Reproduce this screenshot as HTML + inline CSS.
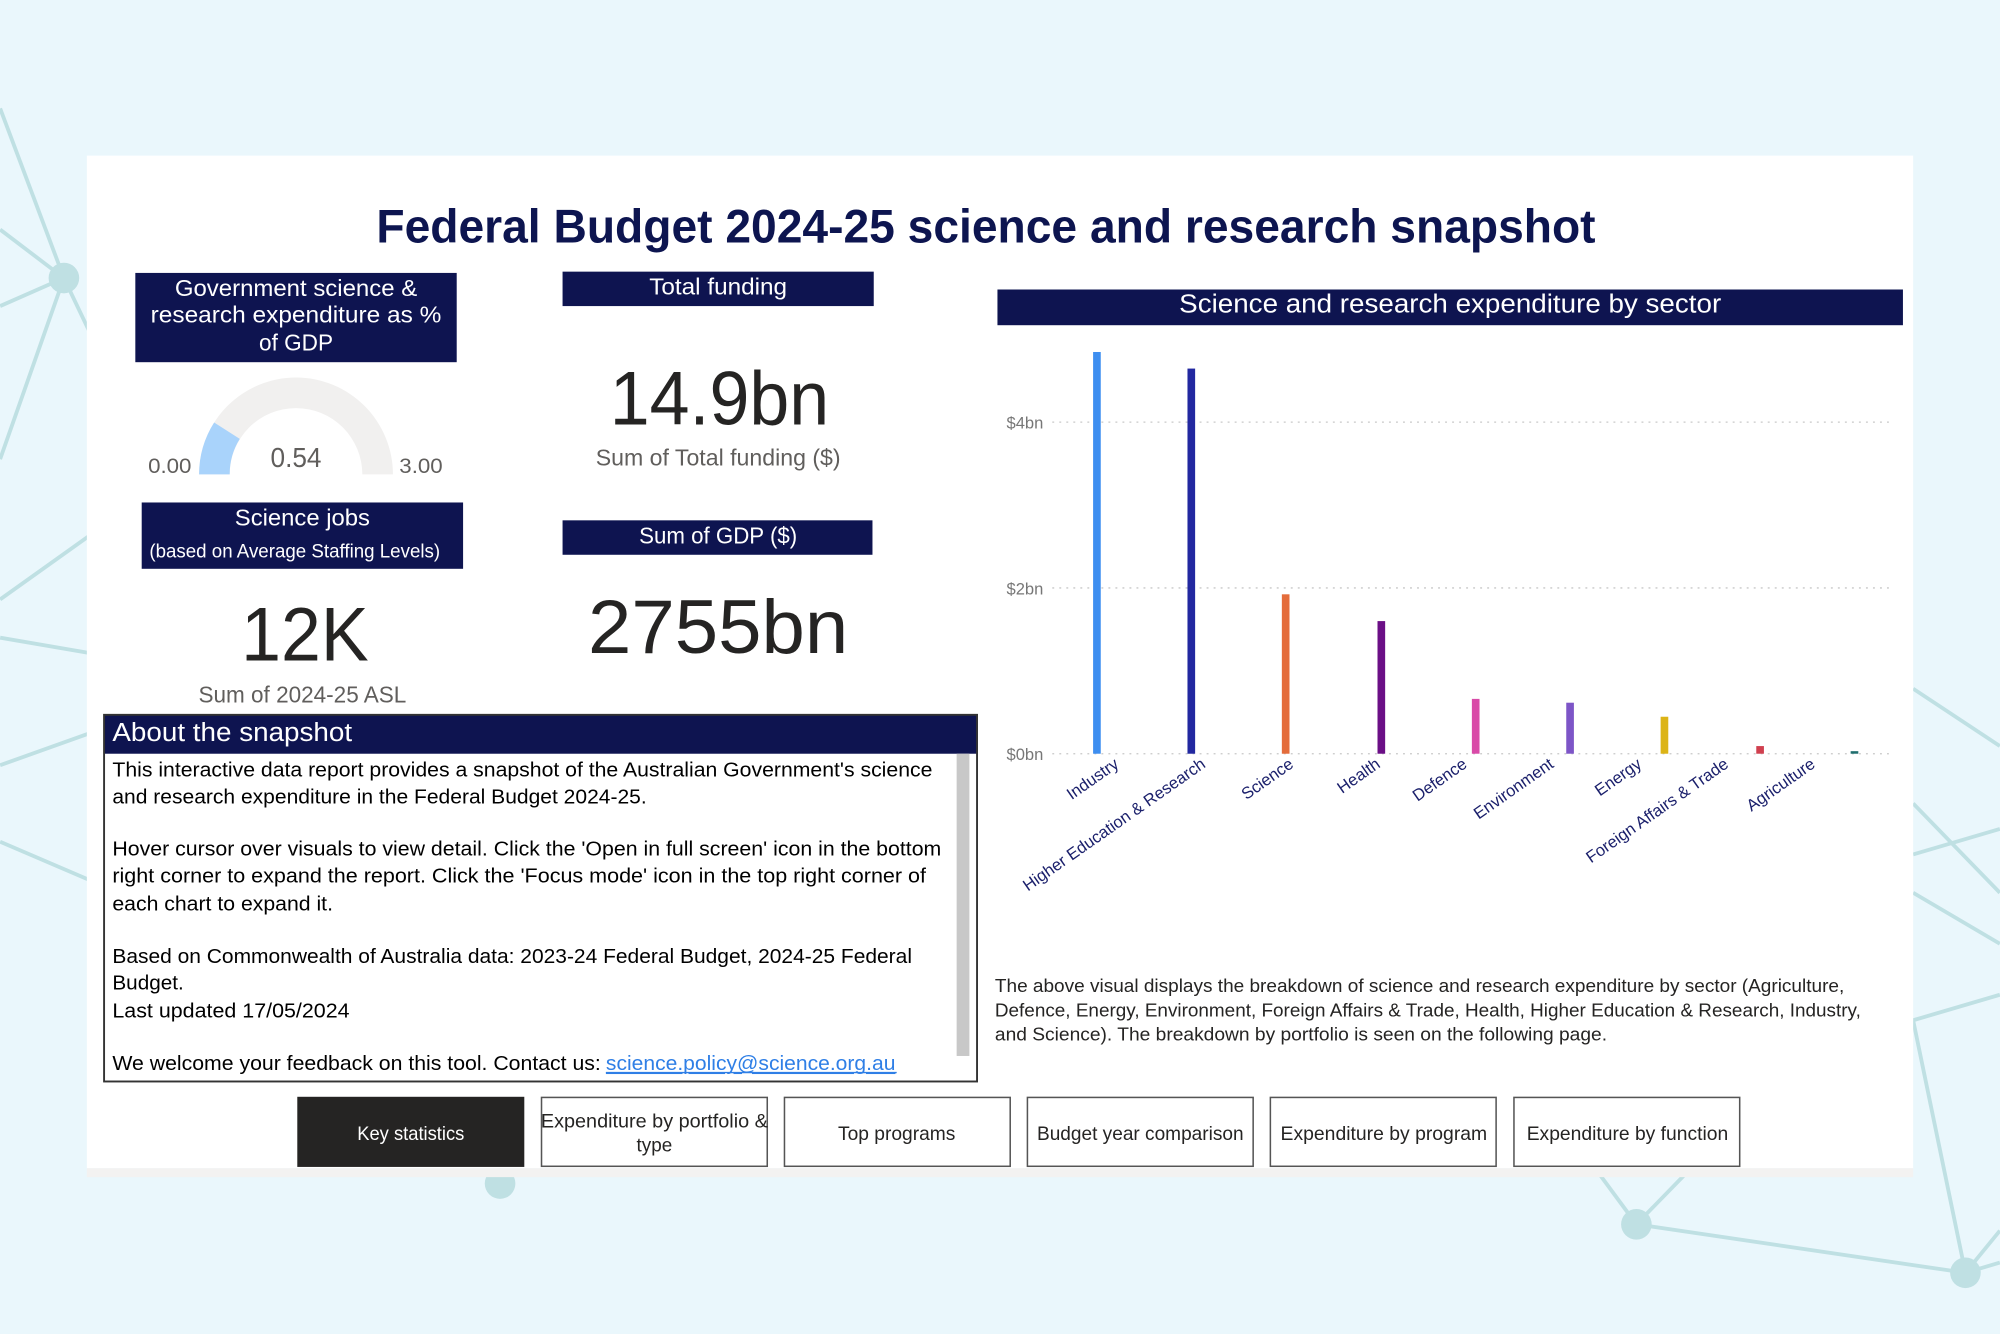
<!DOCTYPE html>
<html><head><meta charset="utf-8"><style>
html,body{margin:0;padding:0;background:#eaf7fc;}
svg{display:block}
text{font-family:"Liberation Sans",sans-serif}
</style></head><body>
<svg width="2000" height="1334" viewBox="0 0 1568 1046" xmlns="http://www.w3.org/2000/svg">
<rect width="1568" height="1046" fill="#eaf7fc"/>
<g stroke="#bfe0e3" stroke-width="3" fill="none">
<line x1="0" y1="85" x2="50" y2="218"/>
<line x1="0" y1="180" x2="50" y2="218"/>
<line x1="0" y1="240" x2="50" y2="218"/>
<line x1="50" y1="218" x2="70" y2="260"/>
<line x1="50" y1="218" x2="0" y2="360"/>
<line x1="0" y1="470" x2="70" y2="420"/>
<line x1="0" y1="500" x2="70" y2="512"/>
<line x1="0" y1="600" x2="70" y2="575"/>
<line x1="0" y1="660" x2="70" y2="690"/>
<line x1="1500" y1="540" x2="1568" y2="585"/>
<line x1="1500" y1="630" x2="1568" y2="700"/>
<line x1="1500" y1="670" x2="1568" y2="650"/>
<line x1="1500" y1="700" x2="1568" y2="740"/>
<line x1="1500" y1="800" x2="1568" y2="780"/>
<line x1="1500" y1="800" x2="1541" y2="998"/>
<line x1="1283" y1="960" x2="1541" y2="998"/>
<line x1="1283" y1="960" x2="1255" y2="922"/>
<line x1="1283" y1="960" x2="1320" y2="922"/>
<line x1="1541" y1="998" x2="1568" y2="965"/>
<line x1="1541" y1="998" x2="1568" y2="990"/>
</g>
<g fill="#bfe0e3">
<circle cx="50" cy="218" r="12"/>
<circle cx="392" cy="928" r="12"/>
<circle cx="1283" cy="960" r="12"/>
<circle cx="1541" cy="998" r="12"/>
</g>
<rect x="68" y="122" width="1432" height="794" fill="#ffffff"/>
<rect x="68" y="916" width="1432" height="7" fill="#f3f2f1"/>

<text x="773" y="190" text-anchor="middle" font-weight="bold" font-size="37" fill="#0d1550" textLength="956" lengthAdjust="spacingAndGlyphs">Federal Budget 2024-25 science and research snapshot</text>

<g fill="#0e1450">
<rect x="106" y="214" width="252" height="70"/>
<rect x="441" y="213" width="244" height="27"/>
<rect x="111" y="394" width="252" height="52"/>
<rect x="441" y="408" width="243" height="27"/>
<rect x="782" y="227" width="710" height="28"/>
<rect x="81" y="560" width="685" height="31"/>
</g>
<g fill="#fff" font-size="18" text-anchor="middle">
<text x="232" y="232" textLength="190" lengthAdjust="spacingAndGlyphs">Government science &amp;</text>
<text x="232" y="253" textLength="228" lengthAdjust="spacingAndGlyphs">research expenditure as %</text>
<text x="232" y="275" textLength="58" lengthAdjust="spacingAndGlyphs">of GDP</text>
<text x="563" y="231" textLength="108" lengthAdjust="spacingAndGlyphs">Total funding</text>
<text x="237" y="412" textLength="106" lengthAdjust="spacingAndGlyphs">Science jobs</text>
<text x="231" y="437" font-size="15" textLength="228" lengthAdjust="spacingAndGlyphs">(based on Average Staffing Levels)</text>
<text x="563" y="426" textLength="124" lengthAdjust="spacingAndGlyphs">Sum of GDP ($)</text>
<text x="1137" y="245" font-size="20" textLength="425" lengthAdjust="spacingAndGlyphs">Science and research expenditure by sector</text>
</g>
<text x="88" y="581" fill="#fff" font-size="20" textLength="188" lengthAdjust="spacingAndGlyphs">About the snapshot</text>

<!-- gauge -->
<path d="M156 372 A76 76 0 0 1 308 372 L284 372 A52 52 0 0 0 180 372 Z" fill="#f1f0ef"/>
<path d="M156 372 A76 76 0 0 1 167.8 331.3 L187.9 344.1 A52 52 0 0 0 180 372 Z" fill="#a9d3fb"/>
<g fill="#605e5c" text-anchor="middle">
<text x="133" y="371" font-size="17" textLength="34" lengthAdjust="spacingAndGlyphs">0.00</text>
<text x="330" y="371" font-size="17" textLength="34" lengthAdjust="spacingAndGlyphs">3.00</text>
<text x="232" y="366" font-size="22" textLength="40" lengthAdjust="spacingAndGlyphs">0.54</text>
<text x="563" y="365" font-size="18" textLength="192" lengthAdjust="spacingAndGlyphs">Sum of Total funding ($)</text>
<text x="237" y="551" font-size="18" textLength="163" lengthAdjust="spacingAndGlyphs">Sum of 2024-25 ASL</text>
</g>
<g fill="#252423" text-anchor="middle" font-size="60">
<text x="564" y="333" textLength="172" lengthAdjust="spacingAndGlyphs">14.9bn</text>
<text x="239" y="518" textLength="100" lengthAdjust="spacingAndGlyphs">12K</text>
<text x="563" y="512" textLength="204" lengthAdjust="spacingAndGlyphs">2755bn</text>
</g>

<!-- about box -->
<rect x="81.5" y="560.5" width="684.5" height="287.5" fill="none" stroke="#333" stroke-width="1.5"/>
<rect x="750" y="591" width="10" height="237" fill="#c8c8c8"/>
<g font-size="16" fill="#000">
<text x="88" y="609" textLength="643" lengthAdjust="spacingAndGlyphs">This interactive data report provides a snapshot of the Australian Government's science</text>
<text x="88" y="630" textLength="419" lengthAdjust="spacingAndGlyphs">and research expenditure in the Federal Budget 2024-25.</text>
<text x="88" y="671" textLength="650" lengthAdjust="spacingAndGlyphs">Hover cursor over visuals to view detail. Click the 'Open in full screen' icon in the bottom</text>
<text x="88" y="692" textLength="638" lengthAdjust="spacingAndGlyphs">right corner to expand the report. Click the 'Focus mode' icon in the top right corner of</text>
<text x="88" y="714" textLength="173" lengthAdjust="spacingAndGlyphs">each chart to expand it.</text>
<text x="88" y="755" textLength="627" lengthAdjust="spacingAndGlyphs">Based on Commonwealth of Australia data: 2023-24 Federal Budget, 2024-25 Federal</text>
<text x="88" y="776" textLength="56" lengthAdjust="spacingAndGlyphs">Budget.</text>
<text x="88" y="798" textLength="186" lengthAdjust="spacingAndGlyphs">Last updated 17/05/2024</text>
<text x="88" y="839" textLength="383" lengthAdjust="spacingAndGlyphs">We welcome your feedback on this tool. Contact us:</text>
<text x="475" y="839" fill="#2f7fe6" text-decoration="underline" textLength="227" lengthAdjust="spacingAndGlyphs">science.policy@science.org.au</text>
</g>
<line x1="475" y1="841" x2="703" y2="841" stroke="#2f7fe6" stroke-width="1"/>

<!-- chart -->
<g stroke="#c8c8c8" stroke-width="1" stroke-dasharray="1.5,4">
<line x1="825" y1="331" x2="1485" y2="331"/>
<line x1="825" y1="461" x2="1485" y2="461"/>
<line x1="825" y1="591" x2="1485" y2="591"/>
</g>
<g fill="#777" font-size="13" text-anchor="end">
<text x="818" y="336">$4bn</text>
<text x="818" y="466">$2bn</text>
<text x="818" y="596">$0bn</text>
</g>
<rect x="857" y="276" width="6" height="315" fill="#3d8ef0"/>
<rect x="931" y="289" width="6" height="302" fill="#2228a0"/>
<rect x="1005" y="466" width="6" height="125" fill="#e46c3b"/>
<rect x="1080" y="487" width="6" height="104" fill="#6b0f86"/>
<rect x="1154" y="548" width="6" height="43" fill="#d94aa8"/>
<rect x="1228" y="551" width="6" height="40" fill="#7d55c7"/>
<rect x="1302" y="562" width="6" height="29" fill="#dcb416"/>
<rect x="1377" y="585" width="6" height="6" fill="#d0404f"/>
<rect x="1451" y="589" width="6" height="2" fill="#1f6e6e"/>
<g fill="#1a1f6b" font-size="13" text-anchor="end">
<text transform="translate(878,601) rotate(-35)">Industry</text>
<text transform="translate(946,601) rotate(-35)">Higher Education &amp; Research</text>
<text transform="translate(1015,601) rotate(-35)">Science</text>
<text transform="translate(1083,601) rotate(-35)">Health</text>
<text transform="translate(1151,601) rotate(-35)">Defence</text>
<text transform="translate(1219,601) rotate(-35)">Environment</text>
<text transform="translate(1288,601) rotate(-35)">Energy</text>
<text transform="translate(1356,601) rotate(-35)">Foreign Affairs &amp; Trade</text>
<text transform="translate(1424,601) rotate(-35)">Agriculture</text>
</g>
<g font-size="14.5" fill="#252423">
<text x="780" y="778" textLength="666" lengthAdjust="spacingAndGlyphs">The above visual displays the breakdown of science and research expenditure by sector (Agriculture,</text>
<text x="780" y="797" textLength="679" lengthAdjust="spacingAndGlyphs">Defence, Energy, Environment, Foreign Affairs &amp; Trade, Health, Higher Education &amp; Research, Industry,</text>
<text x="780" y="816" textLength="480" lengthAdjust="spacingAndGlyphs">and Science). The breakdown by portfolio is seen on the following page.</text>
</g>

<!-- buttons -->
<rect x="233" y="860" width="178" height="55" fill="#252423"/>
<g fill="#fff" stroke="#555" stroke-width="1.2">
<rect x="424.5" y="860.5" width="177" height="54"/>
<rect x="615" y="860.5" width="177" height="54"/>
<rect x="805.5" y="860.5" width="177" height="54"/>
<rect x="996" y="860.5" width="177" height="54"/>
<rect x="1187" y="860.5" width="177" height="54"/>
</g>
<g font-size="15" text-anchor="middle" fill="#252423">
<text x="322" y="894" fill="#fff" textLength="84" lengthAdjust="spacingAndGlyphs">Key statistics</text>
<text x="513" y="884" textLength="178" lengthAdjust="spacingAndGlyphs">Expenditure by portfolio &amp;</text>
<text x="513" y="903" textLength="28" lengthAdjust="spacingAndGlyphs">type</text>
<text x="703" y="894" textLength="92" lengthAdjust="spacingAndGlyphs">Top programs</text>
<text x="894" y="894" textLength="162" lengthAdjust="spacingAndGlyphs">Budget year comparison</text>
<text x="1085" y="894" textLength="162" lengthAdjust="spacingAndGlyphs">Expenditure by program</text>
<text x="1276" y="894" textLength="158" lengthAdjust="spacingAndGlyphs">Expenditure by function</text>
</g>
</svg>
</body></html>
